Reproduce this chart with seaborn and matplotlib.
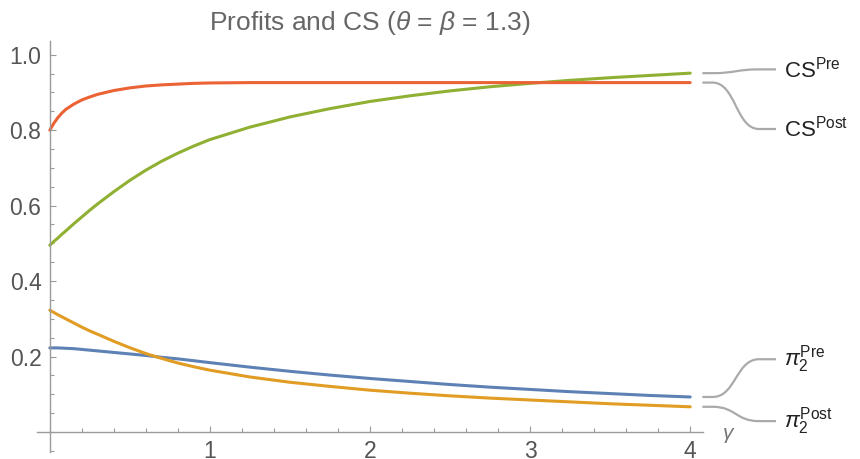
import pandas as pd
import matplotlib
matplotlib.use('Agg')
import matplotlib.pyplot as plt
import seaborn as sns
from matplotlib.path import Path
from matplotlib.patches import PathPatch
from matplotlib.ticker import MultipleLocator

# values
gamma = [0, 0.025, 0.05, 0.075, 0.1, 0.15, 0.2, 0.25, 0.3,
         0.4, 0.5, 0.6, 0.7, 0.8, 0.9, 1.0,
         1.25, 1.5, 1.75, 2.0, 2.25, 2.5, 2.75, 3.0, 3.25, 3.5, 3.75, 4.0]
pi2_pre = [0.223, 0.223, 0.223, 0.2225, 0.222, 0.221, 0.219, 0.217, 0.215,
           0.211, 0.207, 0.203, 0.198, 0.194, 0.189, 0.184,
           0.172, 0.161, 0.151, 0.142, 0.134, 0.126, 0.119, 0.113, 0.107, 0.102, 0.097, 0.093]
pi2_post = [0.323, 0.317, 0.311, 0.3055, 0.300, 0.289, 0.278, 0.268, 0.259,
            0.2405, 0.2235, 0.208, 0.195, 0.183, 0.173, 0.164,
            0.146, 0.132, 0.121, 0.111, 0.103, 0.096, 0.090, 0.085, 0.080, 0.075, 0.071, 0.067]
cs_pre = [0.495, 0.505, 0.514, 0.524, 0.533, 0.552, 0.570, 0.588, 0.605,
          0.637, 0.667, 0.694, 0.718, 0.739, 0.758, 0.775,
          0.808, 0.835, 0.857, 0.876, 0.891, 0.904, 0.915, 0.924, 0.932, 0.939, 0.945, 0.951]
cs_post = [0.800, 0.818, 0.833, 0.845, 0.855, 0.869, 0.880, 0.888, 0.895,
           0.905, 0.912, 0.917, 0.920, 0.922, 0.924, 0.925,
           0.926, 0.926, 0.926, 0.926, 0.926, 0.926, 0.926, 0.926, 0.926, 0.926, 0.926, 0.926]

names = ['pi2_pre', 'pi2_post', 'cs_pre', 'cs_post']
labels = [r'$\pi_2^{\mathrm{Pre}}$', r'$\pi_2^{\mathrm{Post}}$',
          r'CS$^{\mathrm{Pre}}$', r'CS$^{\mathrm{Post}}$']
colors = ['#5E81B5', '#E19C24', '#8FB032', '#EB6235']
label_y = [0.193, 0.029, 0.961, 0.803]

series = {'pi2_pre': pi2_pre, 'pi2_post': pi2_post, 'cs_pre': cs_pre, 'cs_post': cs_post}
df = pd.concat([pd.DataFrame({'gamma': gamma, 'value': v, 'series': k})
                for k, v in series.items()], ignore_index=True)

sns.set_style('white')
plt.rcParams['font.family'] = ['Liberation Sans', 'DejaVu Sans']
plt.rcParams['mathtext.fontset'] = 'custom'
plt.rcParams['mathtext.rm'] = 'Liberation Sans'
plt.rcParams['mathtext.it'] = 'Liberation Sans:italic'

fig = plt.figure(figsize=(8.6, 4.59), dpi=100)
ax = fig.add_axes([37 / 860, 7.3 / 459, 666 / 860, 411 / 459])

sns.lineplot(data=df, x='gamma', y='value', hue='series', hue_order=names,
             palette=dict(zip(names, colors)), linewidth=2.2, legend=False, ax=ax)

ax.set_xlim(-0.08, 4.08)
ax.set_ylim(-0.052, 1.037)
ax.set_xlabel('')
ax.set_ylabel('')

axis_col = '#9a9a9a'
for s in ['top', 'right']:
    ax.spines[s].set_visible(False)
ax.spines['left'].set_position(('data', 0))
ax.spines['bottom'].set_position(('data', 0))
for s in ['left', 'bottom']:
    ax.spines[s].set_color(axis_col)
    ax.spines[s].set_linewidth(1.0)

ax.set_xticks([1, 2, 3, 4])
ax.set_yticks([0.2, 0.4, 0.6, 0.8, 1.0])
ax.set_yticklabels(['0.2', '0.4', '0.6', '0.8', '1.0'])
ax.xaxis.set_minor_locator(MultipleLocator(0.2))
ax.yaxis.set_minor_locator(MultipleLocator(0.05))
ax.tick_params(which='both', direction='in', color=axis_col, width=0.8,
               bottom=True, left=True, labelcolor='#555555', labelsize=16.5)
ax.tick_params(which='major', length=4.5)
ax.tick_params(which='minor', length=2.8)
ax.tick_params(axis='x', which='major', pad=6)
ax.tick_params(axis='y', which='major', pad=6)

ax.text(4.2, -0.008, r'$\gamma$', color='#777777', fontsize=15, va='center', ha='left')

ax.set_title(r'Profits and CS ($\theta$ = $\beta$ = 1.3)', color='#666666',
             fontsize=19, pad=8)

# callout lines from the curve ends to the labels
x0, xa, xb, x1 = 4.076, 4.14, 4.43, 4.536
for name, lab, ly in zip(names, labels, label_y):
    y0 = series[name][-1]
    xm = (xa + xb) / 2
    verts = [(x0, y0), (xa, y0), (xm, y0), (xm, ly), (xb, ly), (x1, ly)]
    codes = [Path.MOVETO, Path.LINETO, Path.CURVE4, Path.CURVE4, Path.CURVE4, Path.LINETO]
    patch = PathPatch(Path(verts, codes), facecolor='none', edgecolor='#aaaaaa',
                      linewidth=1.6, clip_on=False)
    ax.add_patch(patch)
    ax.text(x1 + 0.05, ly, lab, fontsize=16, color='#222222', va='center', ha='left',
            clip_on=False)

fig.savefig('out.png', dpi=100)
